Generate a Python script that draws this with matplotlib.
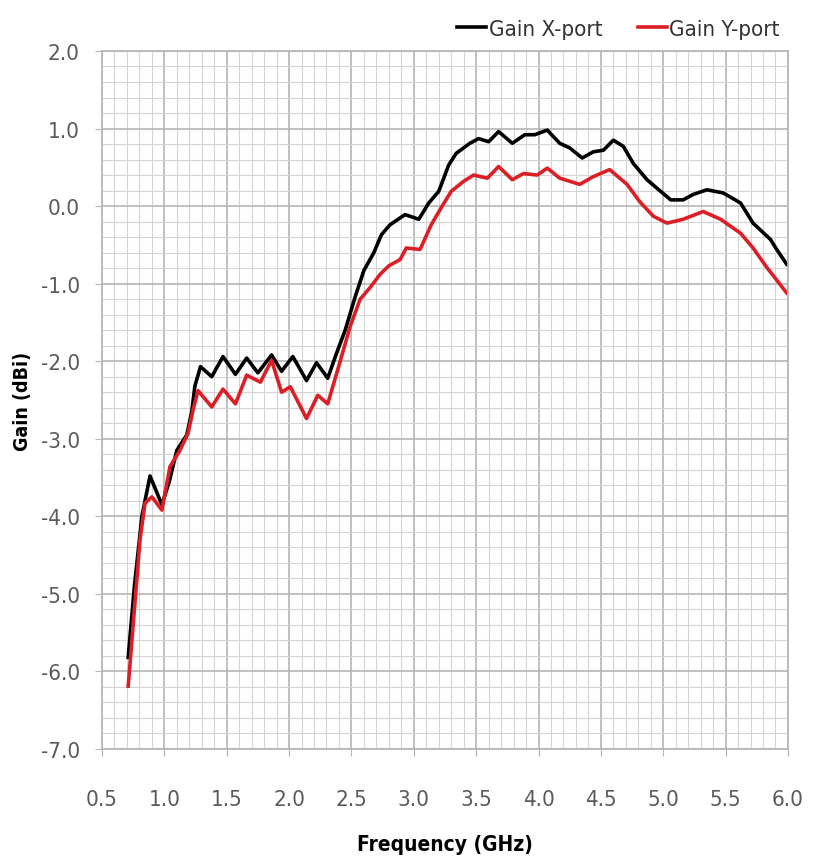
import numpy as np
import matplotlib.pyplot as plt
from matplotlib.ticker import MultipleLocator

# gain readings (GHz, dBi)
freq_x = [0.71, 0.76, 0.82, 0.885, 0.98, 1.04, 1.10, 1.18, 1.22, 1.245,
          1.29, 1.38, 1.47, 1.57, 1.66, 1.75, 1.86, 1.94, 2.03, 2.14,
          2.22, 2.31, 2.38, 2.45, 2.53, 2.60, 2.68, 2.74, 2.81, 2.93,
          3.04, 3.12, 3.20, 3.28, 3.34, 3.45, 3.52, 3.60, 3.68, 3.79,
          3.89, 3.97, 4.07, 4.17, 4.25, 4.35, 4.44, 4.52, 4.60, 4.68,
          4.76, 4.87, 4.95, 5.06, 5.16, 5.24, 5.35, 5.48, 5.62, 5.72,
          5.86, 5.91, 5.99]
gain_x = [-5.82, -4.9, -4.0, -3.48, -3.85, -3.55, -3.15, -2.95, -2.65, -2.32,
          -2.07, -2.2, -1.94, -2.17, -1.96, -2.15, -1.92, -2.13, -1.94, -2.25,
          -2.02, -2.22, -1.9, -1.6, -1.17, -0.83, -0.6, -0.37, -0.24, -0.11,
          -0.17, 0.04, 0.19, 0.53, 0.68, 0.81, 0.87, 0.83, 0.96, 0.81,
          0.92, 0.92, 0.98, 0.81, 0.75, 0.62, 0.7, 0.72, 0.85, 0.77,
          0.55, 0.34, 0.23, 0.08, 0.08, 0.15, 0.21, 0.17, 0.04, -0.22,
          -0.43, -0.56, -0.75]

freq_y = [0.71, 0.76, 0.805, 0.845, 0.9, 0.98, 1.045, 1.125, 1.19, 1.23,
          1.27, 1.38, 1.47, 1.57, 1.66, 1.77, 1.86, 1.94, 2.01, 2.14,
          2.23, 2.31, 2.41, 2.49, 2.57, 2.65, 2.73, 2.80, 2.89, 2.94,
          3.05, 3.14, 3.22, 3.30, 3.40, 3.48, 3.59, 3.68, 3.79, 3.88,
          3.99, 4.07, 4.17, 4.33, 4.44, 4.57, 4.71, 4.81, 4.92, 5.03,
          5.16, 5.32, 5.46, 5.62, 5.72, 5.83, 5.99]
gain_y = [-6.19, -5.2, -4.3, -3.83, -3.75, -3.92, -3.36, -3.15, -2.93, -2.63,
          -2.38, -2.59, -2.36, -2.55, -2.18, -2.27, -1.99, -2.4, -2.33, -2.74,
          -2.44, -2.55, -2.0, -1.55, -1.2, -1.05, -0.88, -0.77, -0.69, -0.54,
          -0.56, -0.24, -0.02, 0.19, 0.32, 0.40, 0.36, 0.51, 0.34, 0.42,
          0.40, 0.49, 0.36, 0.28, 0.38, 0.47, 0.28, 0.06, -0.13, -0.22,
          -0.17, -0.07, -0.17, -0.35, -0.54, -0.79, -1.12]

plt.rcParams['font.family'] = ['DejaVu Sans']
plt.rcParams['font.stretch'] = 'condensed'

fig = plt.figure(figsize=(8.14, 8.62), dpi=100)
ax = fig.add_axes([0.1253, 0.130, 0.8427, 0.8097])

ax.plot(freq_x, gain_x, color='black', lw=2.6, label='Gain X-port')
ax.plot(freq_y, gain_y, color='#dc1f26', lw=2.6, label='Gain Y-port')

ax.set_xlim(0.5, 6.0)
ax.set_ylim(-7.0, 2.0)
ax.xaxis.set_major_locator(MultipleLocator(0.5))
ax.xaxis.set_minor_locator(MultipleLocator(0.1))
ax.yaxis.set_major_locator(MultipleLocator(1.0))
ax.yaxis.set_minor_locator(MultipleLocator(0.2))
ax.xaxis.set_major_formatter(lambda v, p: f"{v:.1f}")
ax.yaxis.set_major_formatter(lambda v, p: f"{v:.1f}")

ax.grid(which='minor', color='#d4d4d4', lw=0.8)
ax.grid(which='major', color='#b4b4b4', lw=1.2)
ax.set_axisbelow(True)
for s in ax.spines.values():
    s.set_color('#b4b4b4')
    s.set_linewidth(1.2)

ax.tick_params(which='major', length=5, color='#b4b4b4', labelsize=16,
               labelcolor='#5a5a5a')
ax.tick_params(which='minor', length=0)
ax.tick_params(axis='x', pad=24)
ax.tick_params(axis='y', pad=11)

ax.set_xlabel('Frequency (GHz)', fontsize=15, fontweight='bold', labelpad=18)
ax.set_ylabel('Gain (dBi)', fontsize=14, fontweight='bold', labelpad=6)

fig.legend(loc='upper right', bbox_to_anchor=(0.982, 1.0), ncol=2,
           frameon=False, fontsize=16, handlelength=1.3, handletextpad=0.1,
           columnspacing=1.6, labelcolor='#333333')

plt.savefig('out.png')
